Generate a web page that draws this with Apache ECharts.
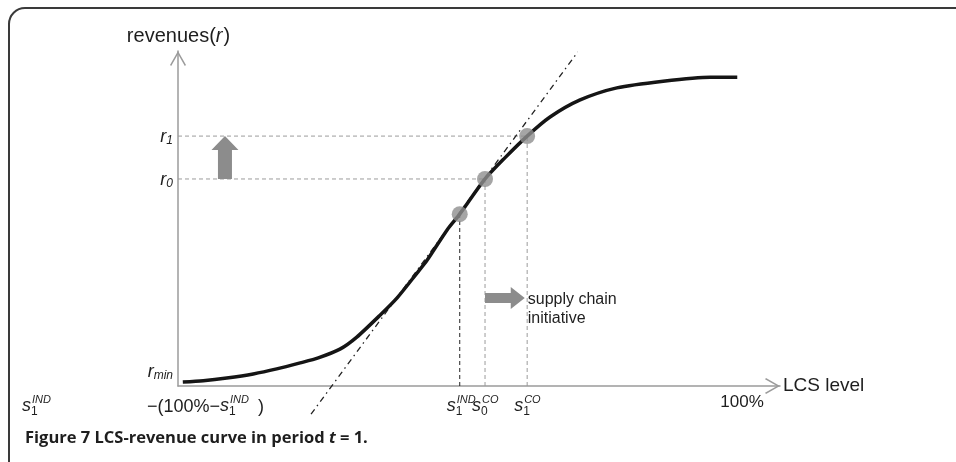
<!DOCTYPE html>
<html><head><meta charset="utf-8">
<script src="https://cdn.jsdelivr.net/npm/echarts@6/dist/echarts.min.js"></script>
<style>html,body{margin:0;padding:0;background:#fff}#c{width:956px;height:462px}</style>
</head><body><div id="c"></div>
<script>
// ---- data (axis units: LCS level 0..100, revenues 0..100) ----
const curveX = [0.8, 4.2, 8.1, 12.5, 16.4, 20.3, 23.3, 26.9, 29.7, 33.6, 36.4, 39.7, 41.4, 44.7, 46.8, 51.0, 54.3, 58.0, 61.8, 66.8, 72.9, 80.6, 88.4, 92.9];
const curveY = [1.2, 1.6, 2.4, 3.6, 5.1, 6.9, 8.4, 11.0, 14.6, 21.2, 26.3, 33.7, 37.6, 46.6, 51.3, 61.8, 68.1, 74.6, 80.3, 85.4, 89.0, 91.0, 92.2, 92.2];
const tangentX = [22.1, 66.4];
const tangentY = [-8.4, 99.7];
const pointNames = ['s1IND', 's0CO', 's1CO'];
const pointX = [46.8, 51.0, 58.0];
const pointY = [51.3, 61.8, 74.6];
const rMinY = 1.2;
const upArrowX = 7.8;
const upArrowY = [61.8, 74.6];
const rightArrowX = [51.0, 57.6];
const rightArrowY = 26.3;
const hundredPctX = 93.7;
const yTickLabels = [['r', 'min', rMinY], ['r', '0', pointY[1]], ['r', '1', pointY[2]]];
const xTickLabels = [['IND', '1', pointX[0]], ['CO', '0', pointX[1]], ['CO', '1', pointX[2]]];

const chevron = 'path://M8,0 L16,14 L14.8,15 L8,3 L1.2,15 L0,14 Z';
const AX = '#9b9b9b';
const arrowShapes = [{shaft: 14, head: 27, headLen: 14}, {shaft: 10, head: 22, headLen: 14}];

const chart = echarts.init(document.getElementById('c'), null, {renderer: 'canvas'});

const guideSeries = [];
[1, 2].forEach(i => guideSeries.push({
  type: 'line', data: [[0, pointY[i]], [pointX[i], pointY[i]]], symbol: 'none', z: 1,
  lineStyle: {color: AX, width: 1, type: [4, 3]}, silent: true
}));
[0, 1, 2].forEach(i => guideSeries.push({
  type: 'line', data: [[pointX[i], 0], [pointX[i], pointY[i]]], symbol: 'none', z: 1,
  lineStyle: {color: i === 0 ? '#222' : AX, width: 1, type: [4, 3]}, silent: true
}));

const option = {
  animation: false,
  grid: {left: 178, right: 176, top: 51, bottom: 76},
  xAxis: {type: 'value', min: 0, max: 100,
    axisLine: {show: true, symbol: ['none', chevron], symbolSize: [16, 15], symbolOffset: [0, -7.5], lineStyle: {color: AX, width: 1.5}},
    axisTick: {show: false}, axisLabel: {show: false}, splitLine: {show: false}},
  yAxis: {type: 'value', min: 0, max: 100,
    axisLine: {show: true, symbol: ['none', chevron], symbolSize: [16, 15], symbolOffset: [0, -7.5], lineStyle: {color: AX, width: 1.5}},
    axisTick: {show: false}, axisLabel: {show: false}, splitLine: {show: false}},
  series: [
    ...guideSeries,
    {type: 'line', data: tangentX.map((x, i) => [x, tangentY[i]]), symbol: 'none', clip: false, z: 2,
      lineStyle: {color: '#222', width: 1.3, type: [6, 4, 1.5, 4]}},
    {type: 'line', data: curveX.map((x, i) => [x, curveY[i]]), symbol: 'none', smooth: 0.25, z: 3,
      lineStyle: {color: '#151515', width: 3.5}},
    {type: 'scatter', data: pointX.map((x, i) => [x, pointY[i]]), symbolSize: 16, z: 5,
      itemStyle: {color: '#8f8f8f'}},
    {type: 'custom', z: 4,
      data: [[upArrowX, upArrowY[0], upArrowX, upArrowY[1]], [rightArrowX[0], rightArrowY, rightArrowX[1], rightArrowY]],
      encode: {x: [0, 2], y: [1, 3]},
      renderItem: (params, api) => {
        const p0 = api.coord([api.value(0), api.value(1)]);
        const p1 = api.coord([api.value(2), api.value(3)]);
        const st = arrowShapes[params.dataIndex];
        const dx = p1[0] - p0[0], dy = p1[1] - p0[1];
        const L = Math.hypot(dx, dy), ux = dx / L, uy = dy / L, nx = -uy, ny = ux;
        const b = [p1[0] - ux * st.headLen, p1[1] - uy * st.headLen];
        const pts = [
          [p0[0] + nx * st.shaft / 2, p0[1] + ny * st.shaft / 2],
          [b[0] + nx * st.shaft / 2, b[1] + ny * st.shaft / 2],
          [b[0] + nx * st.head / 2, b[1] + ny * st.head / 2],
          p1,
          [b[0] - nx * st.head / 2, b[1] - ny * st.head / 2],
          [b[0] - nx * st.shaft / 2, b[1] - ny * st.shaft / 2],
          [p0[0] - nx * st.shaft / 2, p0[1] - ny * st.shaft / 2]
        ];
        return {type: 'polygon', shape: {points: pts}, style: {fill: '#8c8c8c'}};
      }}
  ]
};
chart.setOption(option);

// ---- text labels placed from data coordinates ----
const mctx = document.createElement('canvas').getContext('2d');
function tw(t, f) { mctx.font = f; return mctx.measureText(t).width; }
const FF = '"Liberation Sans", Arial, sans-serif';
const C = '#1e1e1e';
function T(x, y, text, font, align) {
  return {type: 'text', x: x, y: y, silent: true, z: 10,
    style: {text: text, font: font, fill: C, align: align || 'left', textAlign: align || 'left', verticalAlign: 'middle', textVerticalAlign: 'middle'}};
}
const px = (x, y) => chart.convertToPixel({gridIndex: 0}, [x, y]);
const originP = px(0, 0);
const topP = px(0, 100);
const axisEndP = px(100, 0);
const els = [];

// frame
els.push({type: 'rect', shape: {x: 9, y: 8, width: 1000, height: 470, r: 16}, silent: true,
  style: {fill: 'none', stroke: '#3a3a3a', lineWidth: 2}});

// y axis title
const fT = '20px ' + FF, fTi = 'italic 20px ' + FF;
const w1 = tw('revenues(', fT), w2 = tw('r', fTi), w3 = tw(')', fT);
let sx = originP[0] - (w1 + w2 + w3) / 2;
els.push(T(sx, topP[1] - 15, 'revenues(', fT));
els.push(T(sx + w1, topP[1] - 15, 'r', fTi));
els.push(T(sx + w1 + w2 + 1, topP[1] - 15, ')', fT));

// y labels
const fR = 'italic 18px ' + FF, fRs = 'italic 12px ' + FF;
yTickLabels.forEach(([b, s, v]) => {
  const p = px(0, v);
  const yy = s === 'min' ? p[1] - 11 : p[1];
  const wb = tw(b, fR), ws = tw(s, fRs);
  const x0 = originP[0] - 5 - wb - ws;
  els.push(T(x0, yy + 1, b, fR));
  els.push(T(x0 + wb, yy + 5, s, fRs));
});

// s labels
const fS = 'italic 18px ' + FF, fSup = 'italic 11px ' + FF, fSub = '12px ' + FF;
function sLabel(left, sup, sub) {
  const ay = originP[1];
  els.push(T(left, ay + 20, 's', fS));
  els.push(T(left + 10, ay + 14, sup, fSup));
  els.push(T(left + 9, ay + 26, sub, fSub));
}
xTickLabels.forEach(([sup, sub, v]) => sLabel(px(v, 0)[0] - 13, sup, sub));
// left label: s1IND −(100%−s1IND)
sLabel(originP[0] - 156, 'IND', '1');
els.push(T(originP[0] - 31, originP[1] + 21, '\u2212(100%\u2212', '18px ' + FF));
sLabel(originP[0] + 42, 'IND', '1');
els.push(T(originP[0] + 80, originP[1] + 21, ')', '18px ' + FF));

// 100% and LCS level
els.push(T(px(hundredPctX, 0)[0], originP[1] + 16, '100%', '17px ' + FF, 'center'));
els.push(T(axisEndP[0] + 3, originP[1], 'LCS level', '19px ' + FF));

// supply chain initiative
const ra = px(rightArrowX[1], rightArrowY);
els.push(T(ra[0] + 3, ra[1] + 2, 'supply chain', '16px ' + FF));
els.push(T(ra[0] + 3, ra[1] + 21, 'initiative', '16px ' + FF));

// caption
const fC = 'bold 16.5px "Open Sans", sans-serif', fCi = 'italic bold 16.5px "Open Sans", sans-serif';
const c1 = 'Figure 7 LCS-revenue curve in period ';
const cw1 = tw(c1, fC), cw2 = tw('t', fCi);
els.push(T(25, 438, c1, fC));
els.push(T(25 + cw1, 438, 't', fCi));
els.push(T(25 + cw1 + cw2, 438, ' = 1.', fC));

chart.setOption({graphic: {elements: els}});
</script>
</body></html>
